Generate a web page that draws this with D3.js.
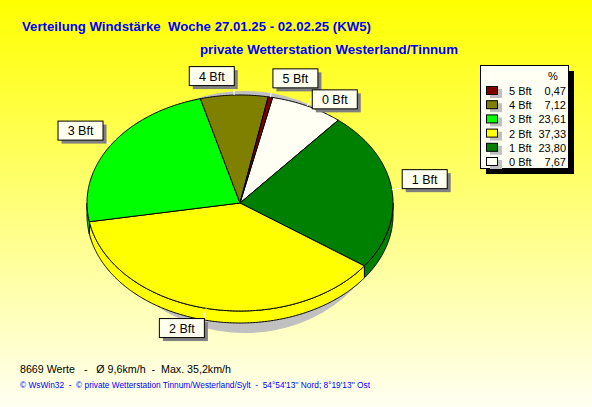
<!DOCTYPE html>
<html><head><meta charset="utf-8">
<script src="https://cdn.jsdelivr.net/npm/d3@7"></script>
<style>html,body{margin:0;padding:0;overflow:hidden}svg{display:block}text{white-space:pre}</style>
</head><body>
<script>
const categories = ["0 Bft","1 Bft","2 Bft","3 Bft","4 Bft","5 Bft"];
const values = [7.67, 23.80, 37.33, 23.61, 7.12, 0.47];
const colors = ["#FFFFF4","#008000","#FFFF00","#00FF00","#808000","#800000"];
const legendOrder = ["5 Bft","4 Bft","3 Bft","2 Bft","1 Bft","0 Bft"];
const title1 = "Verteilung Windstärke  Woche 27.01.25 - 02.02.25 (KW5)";
const title2 = "private Wetterstation Westerland/Tinnum";
const statsText = "8669 Werte   -   Ø 9,6km/h  -  Max. 35,2km/h";
const footerText = "© WsWin32  -  © private Wetterstation Tinnum/Westerland/Sylt  -  54°54'13'' Nord; 8°19'13'' Ost";

const W = 592, H = 407;
const svg = d3.select("body").append("svg").attr("width", W).attr("height", H);
const defs = svg.append("defs");
const grad = defs.append("linearGradient").attr("id","bg").attr("x1",0).attr("y1",0).attr("x2",0).attr("y2",1);
grad.append("stop").attr("offset","0%").attr("stop-color","#FFFF00");
grad.append("stop").attr("offset","100%").attr("stop-color","#FFFFF2");
svg.append("rect").attr("width",W).attr("height",H).attr("fill","url(#bg)");

const font = "Arial, 'Liberation Sans', sans-serif";
svg.append("text").attr("x",22).attr("y",31).attr("font-family",font).attr("font-weight","bold")
  .attr("font-size",13.5).attr("fill","#0000FF").attr("textLength",349).attr("lengthAdjust","spacingAndGlyphs").text(title1);
svg.append("text").attr("x",200).attr("y",54).attr("font-family",font).attr("font-weight","bold")
  .attr("font-size",13.5).attr("fill","#0000FF").attr("textLength",258).attr("lengthAdjust","spacingAndGlyphs").text(title2);
svg.append("text").attr("x",20).attr("y",373).attr("font-family",font)
  .attr("font-size",11.5).attr("fill","#000").attr("textLength",211).attr("lengthAdjust","spacingAndGlyphs").text(statsText);
svg.append("text").attr("x",20).attr("y",388).attr("font-family",font)
  .attr("font-size",8.5).attr("fill","#0000FF").attr("textLength",350).attr("lengthAdjust","spacingAndGlyphs").text(footerText);

// 3D pie
const cx = 240, cy = 203, rx = 153, ry = 108, depth = 12;
const a0 = 0.215;
const pie = d3.pie().sort(null).startAngle(a0).endAngle(a0 + 2*Math.PI);
const arcs = pie(values);
const pt = (a, dy=0, ex=0, ey=0) => [cx + (rx+ex)*Math.sin(a), cy - (ry+ey)*Math.cos(a) + dy];

function arcPoints(s, e, dy) {
  const pts = [];
  const n = Math.max(2, Math.ceil((e - s) / 0.01));
  for (let i = 0; i <= n; i++) pts.push(pt(s + (e - s) * i / n, dy));
  return pts;
}
const line = d3.line();

// shadow
svg.append("ellipse").attr("cx",245).attr("cy",212).attr("rx",140).attr("ry",121).attr("fill","#C0C0C0");

// sides
const g = svg.append("g");
arcs.forEach((d, i) => {
  const s = Math.max(d.startAngle, Math.PI/2), e = Math.min(d.endAngle, 3*Math.PI/2);
  if (e <= s) return;
  const top = arcPoints(s, e, 0), bot = arcPoints(s, e, depth).reverse();
  g.append("path").attr("d", line(top.concat(bot)) + "Z")
    .attr("fill", colors[i]).attr("stroke","#000").attr("stroke-width",1);
});
// tops
arcs.forEach((d, i) => {
  const pts = [[cx, cy]].concat(arcPoints(d.startAngle, d.endAngle, 0));
  g.append("path").attr("d", line(pts) + "Z")
    .attr("fill", colors[i]).attr("stroke","#000").attr("stroke-width",1).attr("stroke-linejoin","round");
});

// labels
const placed = [];
const lg = svg.append("g");
arcs.slice().reverse().forEach(d => {
  const i = d.index;
  const m = (d.startAngle + d.endAngle) / 2;
  const p0 = pt(m, 0, 0, 0);
  const p1 = pt(m, 0, 10, 10);
  const bw = 45, bh = 19;
  let bx = p1[0] >= cx ? p1[0] : p1[0] - bw;
  let by = Math.cos(m) > 0 ? p1[1] - bh : p1[1];
  for (const b of placed) {
    if (bx < b.x + b.w && bx + bw > b.x && by < b.y + b.h && by + bh > b.y) by = b.y + b.h + 2;
  }
  placed.push({x:bx, y:by, w:bw, h:bh});
  lg.append("line").attr("x1",p0[0]).attr("y1",p0[1]).attr("x2",p1[0]).attr("y2",p1[1])
    .attr("stroke","#FFFFFF").attr("stroke-width",1);
  lg.append("rect").attr("x",bx+4).attr("y",by+4).attr("width",bw).attr("height",bh).attr("fill","#808080");
  lg.append("rect").attr("x",bx+0.5).attr("y",by+0.5).attr("width",bw).attr("height",bh)
    .attr("fill","#FFFFF0").attr("stroke","#000").attr("stroke-width",1);
  lg.append("text").attr("x",bx + bw/2 + 0.5).attr("y",by + bh/2 + 5).attr("text-anchor","middle")
    .attr("font-family",font).attr("font-size",12.5).attr("fill","#000").text(categories[i]);
});

// legend
const L = {x:480, y:65, w:88, h:103};
svg.append("rect").attr("x",L.x+6).attr("y",L.y+6).attr("width",L.w).attr("height",L.h).attr("fill","#000");
svg.append("rect").attr("x",L.x+0.5).attr("y",L.y+0.5).attr("width",L.w).attr("height",L.h)
  .attr("fill","#FFFFF4").attr("stroke","#000").attr("stroke-width",1);
svg.append("text").attr("x",553).attr("y",80).attr("text-anchor","middle").attr("font-family",font)
  .attr("font-size",11).text("%");
const ly = d3.scalePoint().domain(legendOrder).range([91, 162]);
const fmt = v => d3.format(".2f")(v).replace(".", ",");
legendOrder.forEach(c => {
  const i = categories.indexOf(c);
  const y = ly(c);
  svg.append("rect").attr("x",490).attr("y",y-2).attr("width",12).attr("height",9).attr("fill","#C0C0C0");
  svg.append("rect").attr("x",486.5).attr("y",y-4.5).attr("width",11).attr("height",8)
    .attr("fill",colors[i]).attr("stroke","#000").attr("stroke-width",1);
  svg.append("text").attr("x",509).attr("y",y+4).attr("font-family",font).attr("font-size",11).text(c);
  svg.append("text").attr("x",566).attr("y",y+4).attr("text-anchor","end").attr("font-family",font)
    .attr("font-size",11).text(fmt(values[i]));
});
</script>
</body></html>
